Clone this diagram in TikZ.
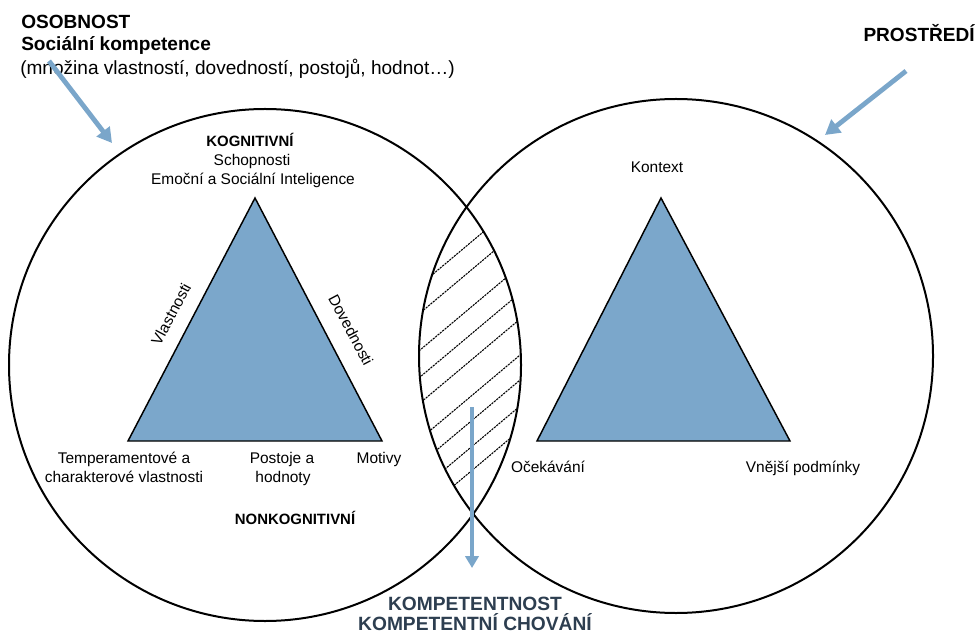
\documentclass[tikz,border=0pt]{standalone}
\usepackage{fontspec}
\setmainfont{Liberation Sans}
\usetikzlibrary{arrows.meta}

\definecolor{triblue}{RGB}{123,167,203}
\definecolor{arrowblue}{RGB}{122,166,202}
\definecolor{slate}{RGB}{45,62,80}

\tikzset{
  ring/.style={draw=black, line width=1.5pt},
  tri/.style={draw=black, line width=1.1pt, fill=triblue, line join=miter},
  hatchline/.style={draw=black, line width=0.8pt, dash pattern=on 1.6pt off 0.7pt},
  bigarrow/.style={draw=arrowblue, line width=3.6pt,
    -{Triangle[length=11pt, width=12pt]}},
  downarrow/.style={draw=arrowblue, line width=3pt,
    -{Triangle[length=9pt, width=10pt]}},
  head/.style={inner sep=0pt, font=\fontsize{14.3}{17}\selectfont\bfseries},
  headreg/.style={inner sep=0pt, font=\fontsize{14.3}{17}\selectfont},
  lbl/.style={inner sep=0pt, anchor=base, font=\fontsize{11.6}{14}\selectfont},
  blbl/.style={inner sep=0pt, anchor=base, font=\fontsize{11.2}{14}\selectfont\bfseries},
  sidelbl/.style={inner sep=0pt, anchor=center, font=\fontsize{11.6}{14}\selectfont},
  result/.style={inner sep=0pt, anchor=base, text=slate,
    font=\fontsize{14.4}{17}\selectfont\bfseries},
}

\begin{document}
\begin{tikzpicture}[x=0.75pt, y=-0.75pt]
\useasboundingbox (0,0) rectangle (977,634);

% circle centres
\coordinate (lc) at (265,365);
\coordinate (rc) at (676,356);

% hatched overlap of the two circles
\begin{scope}
  \clip (lc) circle [radius=256];
  \clip (rc) circle [radius=257];
  \foreach \yy in {285,313,350,377,403,439,464,490,514}
    \draw[hatchline] (400,{\yy+16.8}) -- ++(140,-117.5);
\end{scope}

% the two circles
\draw[ring] (lc) circle [radius=256];
\draw[ring] (rc) circle [radius=257];

% left triangle
\coordinate (lt) at (255,198);
\coordinate (ll) at (128,441);
\coordinate (lr) at (382,441);
\draw[tri] (lt) -- (ll) -- (lr) -- cycle;

% right triangle
\coordinate (rt) at (661,198);
\coordinate (rl) at (537,441);
\coordinate (rr) at (790,441);
\draw[tri] (rt) -- (rl) -- (rr) -- cycle;

% top-left heading
\node[head, anchor=base west] (osobnost) at (21,29) {OSOBNOST};
\node[head, anchor=base west] (socialni) at (21,51) {Sociální kompetence};
\node[headreg, anchor=base west] (mnozina) at (20,75) {(množina vlastností, dovedností, postojů, hodnot…)};

% top-right heading
\node[head, anchor=base east] (prostredi) at (975,42) {PROSTŘEDÍ};

% incoming arrows
\coordinate (osStart) at (49,61);
\coordinate (osEnd) at (112,143);
\draw[bigarrow] (osStart) -- (osEnd);
\coordinate (prStart) at (906,71);
\coordinate (prEnd) at (825,135);
\draw[bigarrow] (prStart) -- (prEnd);

% left circle labels
\node[blbl] (kognitivni) at (250,147) {KOGNITIVNÍ};
\node[lbl] (schopnosti) at (252,166) {Schopnosti};
\node[lbl] (emocni) at (253,185) {Emoční a Sociální Inteligence};
\node[sidelbl, rotate=62] (vlastnosti) at (171,314) {Vlastnosti};
\node[sidelbl, rotate=-62] (dovednosti) at (351,330) {Dovednosti};
\node[lbl] (temperA) at (124,463) {Temperamentové a};
\node[lbl] (temperB) at (124,482) {charakterové vlastnosti};
\node[lbl] (postojeA) at (282,463) {Postoje a};
\node[lbl] (postojeB) at (283,482) {hodnoty};
\node[lbl] (motivy) at (379,463) {Motivy};
\node[blbl] (nonkog) at (295,524) {NONKOGNITIVNÍ};

% right circle labels
\node[lbl] (kontext) at (657,173) {Kontext};
\node[lbl] (ocekavani) at (548,472) {Očekávání};
\node[lbl] (vnejsi) at (803,472) {Vnější podmínky};

% outcome arrow and labels
\coordinate (kStart) at (472,407);
\node[result] (kompA) at (475,610) {KOMPETENTNOST};
\node[result] (kompB) at (475,630) {KOMPETENTNÍ CHOVÁNÍ};
\coordinate (kEnd) at (472,568);
\draw[downarrow] (kStart) -- (kEnd);
\end{tikzpicture}
\end{document}
